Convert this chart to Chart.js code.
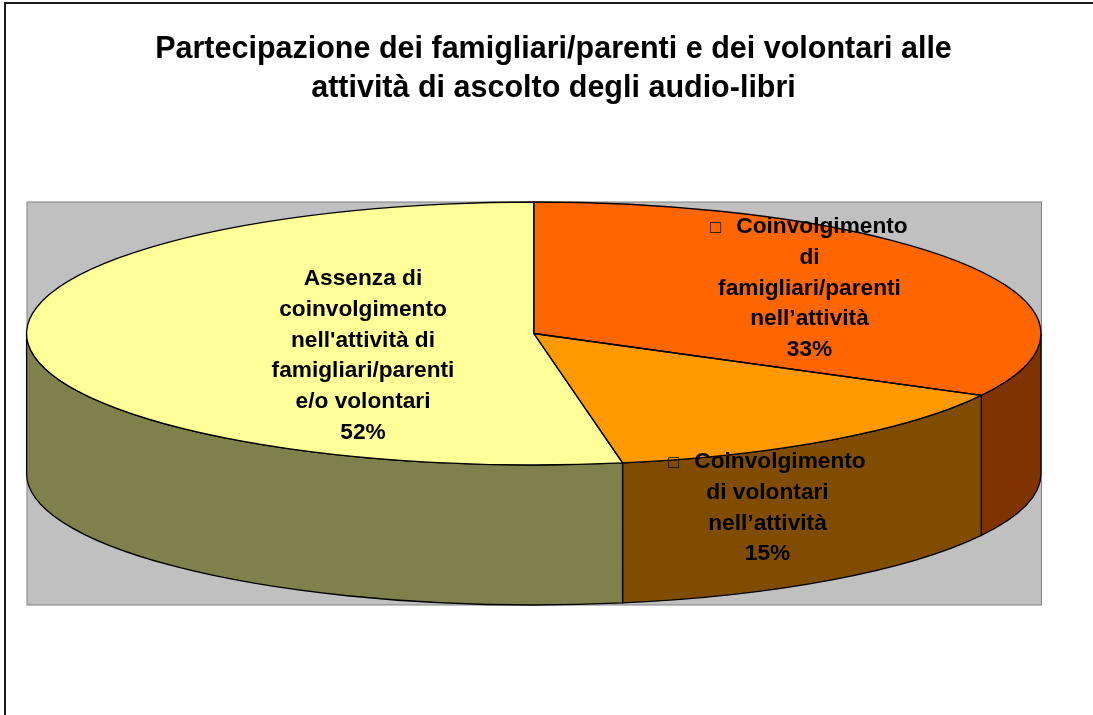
<!DOCTYPE html>
<html><head><meta charset="utf-8">
<style>html,body{margin:0;padding:0;background:#fff}canvas{display:block}</style>
<script src="https://cdn.jsdelivr.net/npm/chart.js@4"></script>
</head><body><canvas id="c" width="1093" height="715"></canvas>
<script>
const titleLines = ["Partecipazione dei famigliari/parenti e dei volontari alle", "attività di ascolto degli audio-libri"];
const categories = ["Coinvolgimento di famigliari/parenti nell’attività", "Coinvolgimento di volontari nell’attività", "Assenza di coinvolgimento nell'attività di famigliari/parenti e/o volontari"];
const sliceValues = [32.8, 14.4, 52.8];
const percentLabels = ["33%", "15%", "52%"];
const labelLines = [
  ["Coinvolgimento", "di", "famigliari/parenti", "nell’attività"],
  ["Coinvolgimento", "di volontari", "nell’attività"],
  ["Assenza di", "coinvolgimento", "nell'attività di", "famigliari/parenti", "e/o volontari"]
];
const labelMarkers = ["□", "□", ""];
const topColors = ["#FF6600", "#FF9900", "#FFFF99"];
const wallColors = ["#803300", "#804C00", "#80804C"];

const FONT = '"Liberation Sans", Arial, sans-serif';
const G = {cx: 533.8, cy: 333.5, rx: 507.2, ry: 131.5, depth: 140};
const PLOT = {l: 27, t: 202, r: 1041.5, b: 605};
const LABEL_POS = [{x: 809.5, y: 233}, {x: 767.5, y: 468}, {x: 363, y: 285}];
const FIRST_LINE_SHIFT = [12.5, 12.5, 0];
const LINE_H = 30.8;

const pie3d = {
  id: 'pie3d',
  beforeDatasetsDraw(chart) {
    const ctx = chart.ctx;
    const arcs = chart.getDatasetMeta(0).data;
    ctx.save();
    ctx.fillStyle = '#1a1a1a';
    ctx.fillRect(4, 2, 1089, 2);
    ctx.fillRect(4, 2, 2, 713);
    ctx.fillStyle = '#C0C0C0';
    ctx.strokeStyle = '#808080';
    ctx.lineWidth = 1;
    ctx.fillRect(PLOT.l, PLOT.t, PLOT.r - PLOT.l, PLOT.b - PLOT.t);
    ctx.strokeRect(PLOT.l, PLOT.t, PLOT.r - PLOT.l, PLOT.b - PLOT.t);
    ctx.strokeStyle = '#000';
    ctx.lineWidth = 1.3;
    arcs.forEach((a, i) => {
      const s = Math.max(a.startAngle, 0), e = Math.min(a.endAngle, Math.PI);
      if (e <= s) return;
      ctx.beginPath();
      ctx.ellipse(G.cx, G.cy, G.rx, G.ry, 0, s, e);
      ctx.ellipse(G.cx, G.cy + G.depth, G.rx, G.ry, 0, e, s, true);
      ctx.closePath();
      ctx.fillStyle = wallColors[i];
      ctx.fill();
      ctx.stroke();
    });
    ctx.restore();
    const a0 = arcs[0];
    ctx.save();
    ctx.translate(G.cx, G.cy);
    ctx.scale(G.rx / G.ry, 1);
    ctx.translate(-a0.x, -a0.y);
  },
  afterDatasetsDraw(chart) {
    const ctx = chart.ctx;
    ctx.restore();
    const arcs = chart.getDatasetMeta(0).data;
    ctx.save();
    ctx.strokeStyle = '#000';
    ctx.lineWidth = 1.3;
    ctx.lineJoin = 'round';
    arcs.forEach(a => {
      ctx.beginPath();
      ctx.moveTo(G.cx, G.cy);
      ctx.ellipse(G.cx, G.cy, G.rx, G.ry, 0, a.startAngle, a.endAngle);
      ctx.closePath();
      ctx.stroke();
    });
    ctx.fillStyle = '#000';
    ctx.textBaseline = 'alphabetic';
    labelLines.forEach((lines, i) => {
      ctx.font = 'bold 22.7px ' + FONT;
      ctx.textAlign = 'center';
      lines.concat(percentLabels[i]).forEach((t, k) => {
        const dx = k === 0 ? FIRST_LINE_SHIFT[i] : 0;
        ctx.fillText(t, LABEL_POS[i].x + dx, LABEL_POS[i].y + k * LINE_H);
      });
      if (labelMarkers[i]) {
        const left = LABEL_POS[i].x + FIRST_LINE_SHIFT[i] - ctx.measureText(lines[0]).width / 2 - 25;
        ctx.font = '18px ' + FONT;
        ctx.textAlign = 'left';
        ctx.fillText(labelMarkers[i], left - 1, LABEL_POS[i].y);
      }
    });
    ctx.restore();
  }
};

new Chart(document.getElementById('c'), {
  type: 'pie',
  data: {
    labels: categories,
    datasets: [{
      data: sliceValues,
      backgroundColor: topColors,
      borderWidth: 0,
      radius: G.ry
    }]
  },
  options: {
    responsive: false,
    animation: false,
    events: [],
    layout: {padding: {left: 14, right: 0, top: 0, bottom: 0}},
    plugins: {
      legend: {display: false},
      tooltip: {enabled: false},
      title: {
        display: true,
        text: titleLines,
        color: '#000',
        font: {family: FONT, size: 30.5, weight: 'bold', lineHeight: 1.28},
        padding: {top: 30, bottom: 10}
      }
    }
  },
  plugins: [pie3d]
});
</script></body></html>
